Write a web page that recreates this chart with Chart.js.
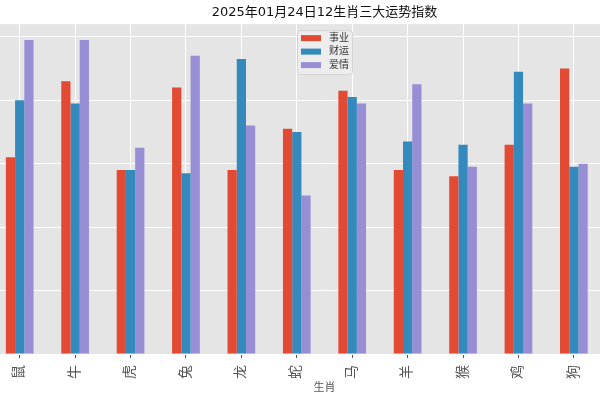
<!DOCTYPE html>
<html>
<head>
<meta charset="utf-8">
<script src="https://cdn.jsdelivr.net/npm/chart.js@4"></script>
<style>
  html, body { margin: 0; padding: 0; width: 600px; height: 400px; overflow: hidden; background: #fff; }
  #box { position: absolute; left: -8px; top: 0; width: 675px; height: 400px; }
</style>
</head>
<body>
<div id="box"><canvas id="myChart"></canvas></div>
<script>
// 12 zodiac signs; the picture is cropped so 猪 falls off the right edge
const zodiac = ['鼠', '牛', '虎', '兔', '龙', '蛇', '马', '羊', '猴', '鸡', '狗', '猪'];
const seriesNames = ['事业', '财运', '爱情'];
const career = [62, 86, 58, 84, 58, 71, 83, 58, 56, 66, 90, null];
const wealth = [80, 79, 58, 57, 93, 70, 81, 67, 66, 89, 59, null];
const love = [99, 99, 65, 94, 72, 50, 79, 85, 59, 79, 60, null];
const yTicks = [0, 20, 40, 60, 80, 100];

const colors = ['#E24A33', '#348ABD', '#988ED5'];
const fontFamily = '"DejaVu Sans", "Noto Sans CJK SC", sans-serif';

// grey panel behind the plot, white page around it
const panelBg = {
    id: 'panelBg',
    beforeDraw(chart) {
        const ctx = chart.ctx;
        const a = chart.chartArea;
        ctx.save();
        ctx.fillStyle = '#ffffff';
        ctx.fillRect(0, 0, chart.width, chart.height);
        ctx.fillStyle = '#E5E5E5';
        ctx.fillRect(a.left, a.top, a.right - a.left, a.bottom - a.top);
        ctx.restore();
    }
};

// matplotlib style legend, upper center inside the axes
const innerLegend = {
    id: 'innerLegend',
    afterDatasetsDraw(chart) {
        const ctx = chart.ctx;
        const a = chart.chartArea;
        const w = 55, h = 44;
        const x = (a.left + a.right) / 2 - w / 2;
        const y = a.top + 6;
        ctx.save();
        ctx.fillStyle = 'rgba(238,238,238,0.85)';
        ctx.strokeStyle = '#d4d4d4';
        ctx.lineWidth = 1;
        ctx.beginPath();
        ctx.roundRect(x + 0.5, y + 0.5, w, h, 3);
        ctx.fill();
        ctx.stroke();
        ctx.font = '10px ' + fontFamily;
        ctx.textBaseline = 'middle';
        chart.data.datasets.forEach(function (ds, i) {
            const rowY = y + 8 + i * 13.5;
            ctx.fillStyle = ds.backgroundColor;
            ctx.fillRect(x + 4, rowY - 3, 20, 6);
            ctx.fillStyle = '#333333';
            ctx.fillText(ds.label, x + 32, rowY);
        });
        ctx.restore();
    }
};

const ctx = document.getElementById('myChart').getContext('2d');
const myChart = new Chart(ctx, {
    type: 'bar',
    data: {
        labels: zodiac,
        datasets: [
            { label: seriesNames[0], data: career, backgroundColor: colors[0] },
            { label: seriesNames[1], data: wealth, backgroundColor: colors[1] },
            { label: seriesNames[2], data: love, backgroundColor: colors[2] }
        ]
    },
    options: {
        responsive: true,
        maintainAspectRatio: false,
        animation: false,
        devicePixelRatio: 1,
        layout: { padding: { left: 0, right: 10, top: 0, bottom: 0 } },
        datasets: {
            bar: { categoryPercentage: 0.5, barPercentage: 1.0, borderWidth: 0 }
        },
        plugins: {
            legend: { display: false },
            tooltip: { enabled: false },
            title: {
                display: true,
                text: '2025年01月24日12生肖三大运势指数',
                color: '#111111',
                font: { family: fontFamily, size: 13, weight: 'normal' },
                padding: { top: 5, bottom: 3.5 }
            }
        },
        scales: {
            x: {
                grid: {
                    offset: false,
                    color: '#ffffff',
                    lineWidth: 1,
                    tickColor: '#555555',
                    tickLength: 4
                },
                border: { display: false },
                ticks: {
                    color: '#555555',
                    font: { family: fontFamily, size: 14 },
                    minRotation: 90,
                    maxRotation: 90,
                    autoSkip: false,
                    padding: 7
                },
                title: {
                    display: true,
                    text: '生肖',
                    color: '#555555',
                    font: { family: fontFamily, size: 11 },
                    padding: { top: 0, bottom: 5 }
                },
                afterFit(scale) { scale.height = 46; }
            },
            y: {
                min: 0,
                max: 104,
                afterBuildTicks(scale) {
                    scale.ticks = yTicks.map(function (v) { return { value: v }; });
                },
                grid: { color: '#ffffff', lineWidth: 1, drawTicks: false },
                border: { display: false },
                ticks: { display: false },
                afterFit(scale) { scale.width = 0; }
            }
        }
    },
    plugins: [panelBg, innerLegend]
});
</script>
</body>
</html>
